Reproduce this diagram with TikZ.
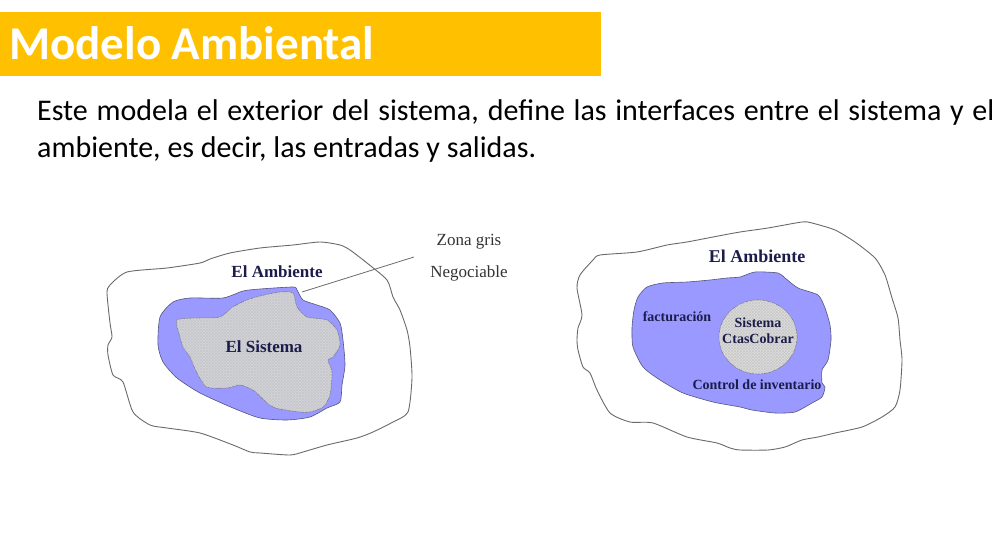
\documentclass[tikz,border=0pt]{standalone}
\usepackage{fontspec}
\setmainfont{Liberation Serif}
\newfontfamily\slidefont{Carlito}
\usetikzlibrary{patterns}
\definecolor{titlebar}{HTML}{FFC000}
\definecolor{zone}{HTML}{9999FF}
\definecolor{zoneline}{HTML}{55557A}
\definecolor{core}{HTML}{D4D4DE}
\definecolor{ink}{HTML}{1C1C4A}
\definecolor{outline}{HTML}{6A6A6A}
\tikzset{
  envline/.style={draw=outline, line width=0.9pt, fill=white},
  zonefill/.style={draw=zoneline, line width=0.6pt, fill=zone},
  corefill/.style={draw=zoneline!80, line width=0.6pt, fill=core},
  hatch/.style={pattern=crosshatch, pattern color=black!22},
  lbl/.style={text=ink, font=\bfseries, inner sep=0pt},
  plain/.style={text=black!80, inner sep=0pt},
}
\begin{document}
\begin{tikzpicture}[x=1pt, y=-1pt]
\useasboundingbox (0,0) rectangle (1001,540);

% title bar
\fill[titlebar] (0,12) rectangle (601,76);
\node[anchor=base west, inner sep=0pt, text=white,
      font=\slidefont\bfseries\fontsize{47}{54}\selectfont] (title) at (9,60) {Modelo Ambiental};

% body text
\node[anchor=base west, inner sep=0pt, font=\slidefont\fontsize{30}{36}\selectfont] (line1) at (37,121)
  {\makebox[957pt][s]{Este modela el exterior del sistema, define las interfaces entre el sistema y el}};
\node[anchor=base west, inner sep=0pt, font=\slidefont\fontsize{30}{36}\selectfont] (line2) at (37,158)
  {ambiente, es decir, las entradas y salidas.};

% ---------- left diagram ----------
\draw[envline] plot[smooth cycle, tension=0.4] coordinates {
  (107,293) (110,285) (127,272) (167,268) (200,263) (210,259) (230,253) (260,248)
  (293,245) (320,242) (340,245) (350,250) (367,263) (387,280) (393,297) (400,310)
  (407,330) (410,347) (412,378) (408,412) (393,422) (373,432) (357,438) (327,445)
  (303,452) (290,455) (260,453) (250,452) (233,445) (200,433) (167,428) (150,425)
  (133,412) (123,382) (113,375) (108,355) (108,345) (112,337) (110,323)};
\draw[zonefill] plot[smooth cycle, tension=0.4] coordinates {
  (243,291) (260,289) (293,287) (297,290) (303,300) (317,305) (330,310) (340,323)
  (343,340) (345,365) (342,385) (340,402) (327,408) (310,417) (287,420) (260,418)
  (233,408) (200,393) (177,378) (163,362) (158,345) (160,317) (173,302) (190,298)
  (223,298)};
\def\corepath{plot[smooth cycle, tension=0.4] coordinates {
  (177,320) (200,318) (220,317) (233,307) (247,300) (260,296) (280,292) (293,293)
  (297,307) (307,317) (327,320) (337,330) (340,345) (333,357) (328,360) (332,372)
  (330,395) (323,407) (310,412) (300,412) (273,407) (253,390) (240,385) (227,388)
  (207,387) (197,373) (190,357) (183,347) (180,337)}}
\draw[corefill] \corepath;
\fill[hatch] \corepath;

\node[lbl, font=\bfseries\fontsize{17}{20}\selectfont] (envL) at (277,272) {El Ambiente};
\node[lbl, font=\bfseries\fontsize{17}{20}\selectfont] (sysL) at (264,347) {El Sistema};
\node[plain, font=\fontsize{17}{20}\selectfont] (zona) at (469,242) {Zona gris};
\node[plain, font=\fontsize{17}{20}\selectfont] (nego) at (469,273) {Negociable};
\coordinate (leadStart) at (414,257);
\coordinate (leadEnd) at (302,292);
\draw[outline, line width=0.8pt] (leadStart) -- (leadEnd);

% ---------- right diagram ----------
\draw[envline] plot[smooth cycle, tension=0.4] coordinates {
  (577,288) (580,275) (593,260) (600,255) (637,252) (667,245) (687,242) (713,237)
  (740,232) (768,228) (802,222) (812,223) (835,230) (855,242) (875,258) (885,275)
  (892,298) (898,318) (900,340) (902,360) (900,390) (895,407) (882,417) (862,427)
  (835,433) (818,437) (802,440) (785,447) (768,450) (740,450) (730,448) (717,443)
  (687,437) (653,423) (630,422) (610,413) (597,390) (590,373) (583,367) (578,350)
  (577,340) (578,328) (582,315)};
\draw[zonefill] plot[smooth cycle, tension=0.4] coordinates {
  (647,287) (663,283) (687,282) (710,280) (727,278) (740,277) (755,272) (778,273)
  (785,278) (798,288) (818,295) (825,308) (830,325) (831,340) (828,360) (822,370)
  (822,383) (825,387) (822,397) (812,403) (795,412) (775,413) (752,410) (740,407)
  (713,402) (683,393) (660,380) (643,367) (633,347) (632,328) (634,310) (638,297)};
\draw[corefill, fill=black!13] (758,337) ellipse [x radius=39, y radius=37];
\fill[hatch] (758,337) ellipse [x radius=39, y radius=37];

\node[lbl, font=\bfseries\fontsize{18}{21}\selectfont] (envR) at (757,256) {El Ambiente};
\node[lbl, font=\bfseries\fontsize{14}{16}\selectfont] (fact) at (677,317) {facturación};
\node[lbl, font=\bfseries\fontsize{14}{16}\selectfont] (sysR1) at (758,323) {Sistema};
\node[lbl, font=\bfseries\fontsize{14}{16}\selectfont] (sysR2) at (758,339) {CtasCobrar};
\node[lbl, font=\bfseries\fontsize{14}{16}\selectfont] (inv) at (757,385) {Control de inventario};
\end{tikzpicture}
\end{document}
